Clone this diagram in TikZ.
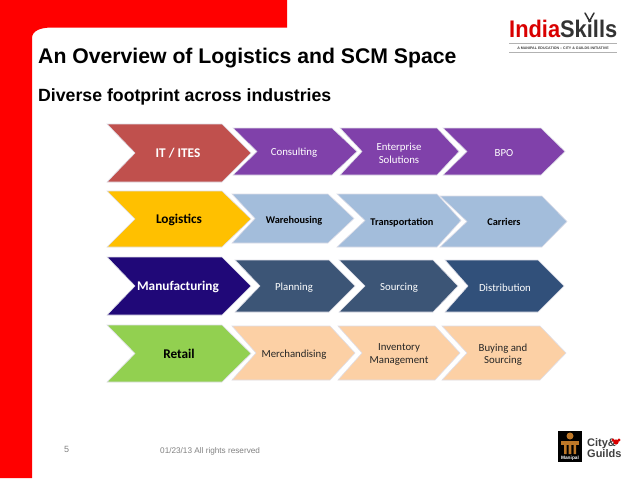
\documentclass[tikz,border=0pt]{standalone}
\usepackage{fontspec}
\usepackage{graphicx}
\setmainfont{Liberation Sans}
\newfontfamily\carl{Carlito}
\definecolor{redbar}{RGB}{255,0,0}
\definecolor{cITmain}{RGB}{192,80,77}
\definecolor{cpurple}{RGB}{128,65,170}
\definecolor{cyellow}{RGB}{255,192,0}
\definecolor{cblue}{RGB}{163,189,219}
\definecolor{cnavy}{RGB}{32,8,120}
\definecolor{cslate}{RGB}{60,85,118}
\definecolor{cslateb}{RGB}{49,80,122}
\definecolor{cgreen}{RGB}{146,208,80}
\definecolor{cpeach}{RGB}{252,208,165}
\definecolor{cedge}{RGB}{222,222,232}
\definecolor{footgray}{RGB}{130,130,130}
\definecolor{goldc}{RGB}{190,120,40}
\tikzset{
  x=1pt,y=-1pt,
  chevshape/.style={draw=cedge,line width=0.6pt,line join=miter},
  mainlabel/.style={font=\carl\fontsize{13.3}{15}\selectfont\bfseries,align=center,inner sep=0pt,yshift=-1pt},
  sublabel/.style={font=\carl\fontsize{10.8}{12.5}\selectfont,align=center,inner sep=0pt,yshift=-1.5pt},
  darksub/.style={font=\carl\fontsize{10.3}{12.5}\selectfont\bfseries,align=center,inner sep=0pt,yshift=-1.5pt},
  titletext/.style={anchor=base west,inner sep=0pt,font=\fontsize{21.2}{25}\selectfont\bfseries},
  subtitletext/.style={anchor=base west,inner sep=0pt,font=\fontsize{17.7}{21}\selectfont\bfseries},
  foottext/.style={anchor=base west,inner sep=0pt,text=footgray,font=\fontsize{8.2}{10}\selectfont},
}
% #1 left, #2 notch, #3 right-top, #4 tip, #5 top, #6 bottom, #7 fill
\newcommand{\chevron}[7]{%
  \fill[#7,chevshape] (#1,#5) -- (#3,#5) -- (#4,{(#5+#6)/2}) -- (#3,#6) -- (#1,#6) -- (#2,{(#5+#6)/2}) -- cycle;}
\begin{document}
\begin{tikzpicture}
\useasboundingbox (0,0) rectangle (638,479);
\fill[white] (0,0) rectangle (638,479);
% red frame
\fill[redbar] (0,0) -- (287,0) -- (287,27.5) -- (52,27.5) .. controls (40,27.5) and (32,31) .. (32,38) -- (32,478) -- (0,478) -- cycle;
% title
\node[titletext] (title) at (38,63) {An Overview of Logistics and SCM Space};
\node[subtitletext] (subtitle) at (38,101) {Diverse footprint across industries};
% row 1
\chevron{107}{135}{222}{251}{124}{182}{cITmain}
\chevron{233}{257}{332}{357}{128}{175}{cpurple}
\chevron{340}{362}{437}{459}{128}{175}{cpurple}
\chevron{443}{467}{541}{565}{128}{175}{cpurple}
\node[mainlabel,text=white] (it) at (178,152.5) {IT / ITES};
\node[sublabel,text=white] (consult) at (294,151.5) {Consulting};
\node[sublabel,text=white] (enterprise) at (399,152) {Enterprise\\Solutions};
\node[sublabel,text=white] (bpo) at (504,151.5) {BPO};
% row 2
\chevron{107}{135}{222}{251}{191}{247}{cyellow}
\chevron{232}{255}{328}{354}{194}{243}{cblue}
\chevron{337}{365}{437}{461}{194}{247}{cblue}
\chevron{440}{467}{542}{567}{196}{247}{cblue}
\node[mainlabel,text=black] (logistics) at (179,219) {Logistics};
\node[darksub,text=black] (ware) at (294,219) {Warehousing};
\node[darksub,text=black] (trans) at (402,221) {Transportation};
\node[darksub,text=black] (carriers) at (504,220.5) {Carriers};
% row 3
\chevron{107}{135}{222}{251}{257}{315}{cnavy}
\chevron{235}{260}{329}{355}{260}{312}{cslate}
\chevron{339}{365}{433}{458}{260}{312}{cslate}
\chevron{445}{468}{538}{564}{260}{312}{cslateb}
\node[mainlabel,text=white] (manu) at (178,286) {Manufacturing};
\node[sublabel,text=white] (planning) at (294,286) {Planning};
\node[sublabel,text=white] (sourcing) at (399,286) {Sourcing};
\node[sublabel,text=white] (dist) at (505,286) {Distribution};
% row 4
\chevron{107}{135}{222}{251}{325}{382}{cgreen}
\chevron{232}{256}{330}{355}{326}{380}{cpeach}
\chevron{338}{362}{435}{460}{326}{380}{cpeach}
\chevron{442}{467}{540}{566}{326}{380}{cpeach}
\node[mainlabel,text=black] (retail) at (179,353) {Retail};
\node[sublabel,text=black!85] (merch) at (294,353) {Merchandising};
\node[sublabel,text=black!85] (inv) at (399,353) {Inventory\\Management};
\node[sublabel,text=black!85] (buy) at (503,353) {Buying and\\Sourcing};
% footer
\node[foottext,font=\fontsize{9}{10}\selectfont] (pageno) at (64,452.5) {5};
\node[foottext] (foot) at (160,453) {01/23/13  All rights reserved};
% IndiaSkills logo
\node[anchor=base west,inner sep=0pt,font=\fontsize{24}{26}\selectfont\bfseries] (india) at (509,37) {\scalebox{0.91}[1]{\textcolor{red!85!black}{India}\textcolor{black!80}{Skills}}};
\draw[black!80,line width=1.5pt,line cap=round] (585,13) -- (589.5,21) -- (594,13);
\node[anchor=base,inner sep=0pt,font=\fontsize{3.6}{4}\selectfont\bfseries,text=black!75] (msg) at (563,49) {A MANIPAL EDUCATION -- CITY \& GUILDS INITIATIVE};
\draw[black!30,line width=0.4pt] (509,43) -- (617,43) (509,52) -- (617,52);
% City & Guilds logo
\fill[black] (558,431) rectangle (582,462);
\fill[goldc] (561,441) rectangle (579,445);
\fill[goldc] (564,445) rectangle (566.5,454) (568.7,445) rectangle (571.3,454) (573.5,445) rectangle (576,454);
\fill[goldc] (570,436) circle (3.5);
\node[inner sep=0pt,font=\fontsize{4.8}{5}\selectfont\bfseries,text=white] (manipal) at (570,458.5) {Manipal};
\node[anchor=base west,inner sep=0pt,font=\fontsize{11}{13}\selectfont\bfseries,text=black!75] (city) at (587,446) {City\&};
\node[anchor=base west,inner sep=0pt,font=\fontsize{11}{13}\selectfont\bfseries,text=black!75] (guilds) at (587,457) {Guilds};
\fill[red!85!black] (616,442) circle (2.6) (613,440) circle (1.7) (619,440) circle (1.7);
\end{tikzpicture}
\end{document}
